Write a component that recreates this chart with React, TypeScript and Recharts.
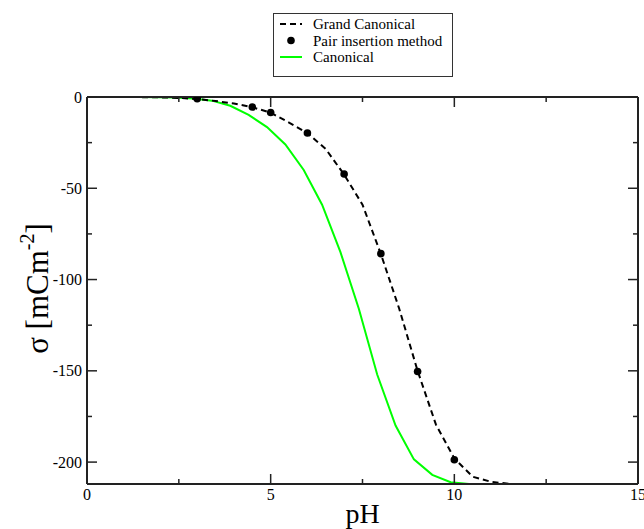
import { ComposedChart, Line, Scatter, XAxis, YAxis } from 'recharts'

// Grand canonical curve (dashed)
const gcPh = [1.5, 2, 2.5, 3, 3.5, 4, 4.5, 5, 5.5, 6, 6.5, 7, 7.5, 8, 8.5, 9, 9.5, 10, 10.5, 11, 11.5]
const gcSigma = [-0.1, -0.2, -0.5, -1.1, -2.2, -3.6, -5.6, -8.6, -14, -19.8, -28.5, -42.5, -59, -86, -116, -150, -179.5, -198, -208, -210.8, -211.9]

// Pair insertion method (dots)
const pairPh = [3, 4.5, 5, 6, 7, 8, 9, 10]
const pairSigma = [-0.9, -5.5, -8.5, -19.7, -42.2, -85.8, -150.4, -198.7]

// Canonical curve (green)
const canPh = [1.4, 1.9, 2.4, 2.9, 3.4, 3.9, 4.4, 4.9, 5.4, 5.9, 6.4, 6.9, 7.4, 7.9, 8.4, 8.9, 9.4, 9.9, 10.4]
const canSigma = [-0.05, -0.1, -0.3, -0.8, -2, -4.8, -9.8, -16.5, -26, -40, -59, -85, -116, -152, -180, -198.5, -207, -211, -212]

const xTicks = [0, 2.5, 5, 7.5, 10, 12.5, 15]
const yTicks = [0, -25, -50, -75, -100, -125, -150, -175, -200]

const FONT = '"Liberation Serif", "Times New Roman", serif'
const AXIS = '#222'
const GREEN = '#00ff00'

const zip = (xs: number[], ys: number[]) => xs.map((x, i) => ({ x, y: ys[i] }))
const gcData = zip(gcPh, gcSigma)
const pairData = zip(pairPh, pairSigma)
const canData = zip(canPh, canSigma)

type Side = 'bottom' | 'top' | 'left' | 'right'

// tickSize/tickMargin are 0, so (x, y) is the point on the axis line itself;
// draw inward ticks (long for majors) and labels only on bottom/left.
function makeTick(side: Side) {
  return function Tick(props: any) {
    const { x, y, payload } = props
    const v = payload.value as number
    const major = side === 'bottom' || side === 'top' ? v % 5 === 0 : v % 50 === 0
    const len = major ? 10 : 5
    let x2 = x
    let y2 = y
    if (side === 'bottom') y2 = y - len
    if (side === 'top') y2 = y + len
    if (side === 'left') x2 = x + len
    if (side === 'right') x2 = x - len
    return (
      <g>
        <line x1={x} y1={y} x2={x2} y2={y2} stroke={AXIS} strokeWidth={1.5} />
        {major && side === 'bottom' && (
          <text x={x} y={y + 16} textAnchor="middle" fontFamily={FONT} fontSize={16} fill="#000">
            {v}
          </text>
        )}
        {major && side === 'left' && (
          <text x={x - 5} y={y + 5.5} textAnchor="end" fontFamily={FONT} fontSize={16} fill="#000">
            {v}
          </text>
        )}
      </g>
    )
  }
}

const bottomTick = makeTick('bottom')
const topTick = makeTick('top')
const leftTick = makeTick('left')
const rightTick = makeTick('right')

function XLabel({ viewBox }: any) {
  const cx = viewBox.x + viewBox.width / 2
  return (
    <text x={cx} y={viewBox.y + 39} textAnchor="middle" fontFamily={FONT} fontSize={28} fill="#000">
      pH
    </text>
  )
}

function YLabel({ viewBox }: any) {
  const bx = viewBox.x + viewBox.width - 39
  const cy = viewBox.y + viewBox.height / 2 - 2
  return (
    <text
      x={bx}
      y={cy}
      transform={`rotate(-90, ${bx}, ${cy})`}
      textAnchor="middle"
      fontFamily={FONT}
      fontSize={31}
      fill="#000"
    >
      σ [mCm
      <tspan dy={-14} fontSize={20}>-2</tspan>
      <tspan dy={14}>]</tspan>
    </text>
  )
}

const legendItems = [
  { label: 'Grand Canonical', kind: 'dash' },
  { label: 'Pair insertion method', kind: 'dot' },
  { label: 'Canonical', kind: 'green' },
]

function LegendBox() {
  return (
    <svg
      width={180}
      height={64}
      style={{ position: 'absolute', left: 273, top: 13 }}
    >
      <rect x={0.5} y={0.5} width={179} height={63} fill="#fff" stroke="#333" strokeWidth={1} />
      {legendItems.map((item, i) => {
        const cy = 11 + i * 16.5
        return (
          <g key={item.label}>
            {item.kind === 'dash' && (
              <line x1={7} y1={cy} x2={29} y2={cy} stroke="#000" strokeWidth={2} strokeDasharray="6 4" />
            )}
            {item.kind === 'dot' && <circle cx={18} cy={cy} r={3.8} fill="#000" />}
            {item.kind === 'green' && (
              <line x1={7} y1={cy} x2={29} y2={cy} stroke={GREEN} strokeWidth={2} />
            )}
            <text x={40} y={cy + 5} fontFamily={FONT} fontSize={15} fill="#000">
              {item.label}
            </text>
          </g>
        )
      })}
    </svg>
  )
}

export default function App() {
  const axisLine = { stroke: AXIS, strokeWidth: 2 }
  return (
    <div style={{ position: 'absolute', left: 0, top: 0, width: 644, height: 529, background: '#fff' }}>
      <ComposedChart
        width={644}
        height={529}
        margin={{ top: 96, right: 5, bottom: 25, left: 67 }}
      >
        <XAxis
          dataKey="x"
          type="number"
          domain={[0, 15]}
          allowDataOverflow
          ticks={xTicks}
          interval={0}
          height={20}
          tickSize={0}
          tickMargin={0}
          tickLine={false}
          axisLine={axisLine}
          tick={bottomTick}
          label={<XLabel />}
        />
        <XAxis
          xAxisId="top"
          orientation="top"
          dataKey="x"
          type="number"
          domain={[0, 15]}
          allowDataOverflow
          ticks={xTicks}
          interval={0}
          height={1}
          tickSize={0}
          tickMargin={0}
          tickLine={false}
          axisLine={axisLine}
          tick={topTick}
        />
        <YAxis
          dataKey="y"
          type="number"
          domain={[-212, 0]}
          allowDataOverflow
          ticks={yTicks}
          interval={0}
          width={20}
          tickSize={0}
          tickMargin={0}
          tickLine={false}
          axisLine={axisLine}
          tick={leftTick}
          label={<YLabel />}
        />
        <YAxis
          yAxisId="right"
          orientation="right"
          dataKey="y"
          type="number"
          domain={[-212, 0]}
          allowDataOverflow
          ticks={yTicks}
          interval={0}
          width={1}
          tickSize={0}
          tickMargin={0}
          tickLine={false}
          axisLine={axisLine}
          tick={rightTick}
        />
        <Line
          data={canData}
          dataKey="y"
          type="linear"
          stroke={GREEN}
          strokeWidth={2}
          dot={false}
          activeDot={false}
          isAnimationActive={false}
        />
        <Line
          data={gcData}
          dataKey="y"
          type="linear"
          stroke="#000"
          strokeWidth={2}
          strokeDasharray="6 4"
          dot={false}
          activeDot={false}
          isAnimationActive={false}
        />
        <Scatter
          data={pairData}
          dataKey="y"
          fill="#000"
          isAnimationActive={false}
          shape={(p: any) => <circle cx={p.cx} cy={p.cy} r={3.8} fill="#000" />}
        />
      </ComposedChart>
      <LegendBox />
    </div>
  )
}
